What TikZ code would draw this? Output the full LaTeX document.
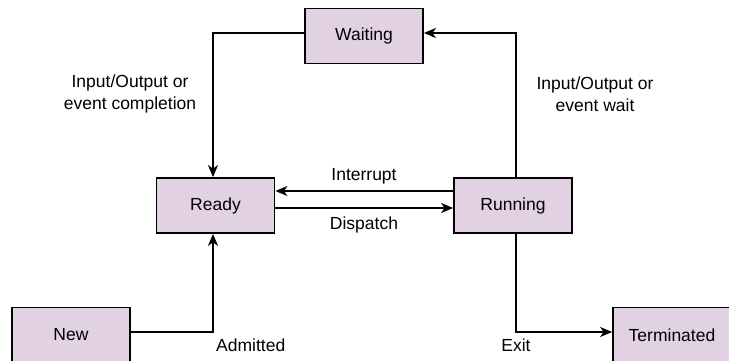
\documentclass[tikz,border=0pt]{standalone}
\usepackage{fontspec}
\setmainfont{Liberation Sans}
\usetikzlibrary{arrows.meta}
\definecolor{statefill}{RGB}{226,209,226}
\tikzset{
  state/.style={draw=black, line width=1.8pt, fill=statefill, minimum width=118pt, minimum height=55pt, inner sep=0pt, font=\fontsize{17.5}{21}\selectfont},
  conn/.style={line width=1.5pt, -{Stealth[length=12pt,width=10pt,inset=3.5pt]}},
  lbl/.style={font=\fontsize{17.5}{22}\selectfont, inner sep=0pt, align=center}
}
\begin{document}
\begin{tikzpicture}[x=1pt,y=1pt]
\useasboundingbox (0,0) rectangle (729,360);
% states
\node[state] (waiting) at (364,324) {Waiting};
\node[state] (ready) at (215.5,154.5) {Ready};
\node[state] (running) at (513,154.5) {Running};
\node[state] (new) at (71,25) {New};
\node[state] (term) at (672,25) {Terminated};
% corner coordinates
\coordinate (wl) at (213,327);
\coordinate (wr) at (516,327);
\coordinate (nl) at (213,28);
\coordinate (tr) at (516,28);
% connectors
\draw[conn] (running.north -| wr) -- (wr) -- (waiting.east |- wr);
\draw[conn] (waiting.west |- wl) -- (wl) -- (ready.north -| wl);
\draw[conn] (new.east |- nl) -- (nl) -- (ready.south -| nl);
\draw[conn] (running.south -| tr) -- (tr) -- (term.west |- tr);
\coordinate (ir) at (453,169);
\coordinate (dr) at (275,152);
\draw[conn] (running.west |- ir) -- (ready.east |- ir);
\draw[conn] (ready.east |- dr) -- (running.west |- dr);
% labels
\node[lbl] (l1) at (130,266) {Input/Output or\\event completion};
\node[lbl] (l2) at (595,266) {Input/Output or\\event wait};
\node[lbl] (l3) at (364,184) {Interrupt};
\node[lbl] (l4) at (364,135) {Dispatch};
\node[lbl, anchor=west] (l5) at (216,15) {Admitted};
\node[lbl] (l6) at (516,15) {Exit};
\end{tikzpicture}
\end{document}
